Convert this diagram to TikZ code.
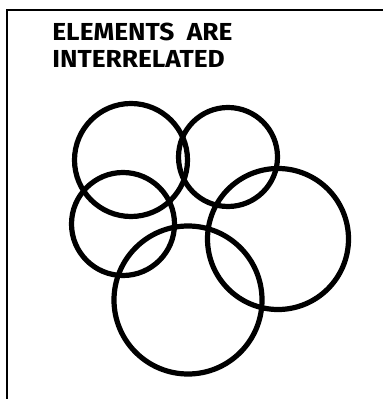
\documentclass[tikz,border=0pt]{standalone}
\usepackage{fontspec}
\newfontfamily\handfont[FakeStretch=1.07]{Fira Sans}
\usetikzlibrary{positioning}
\tikzset{
  frame/.style={line width=1.3pt,black},
  elem/.style={circle,draw=black,line width=2.6pt,inner sep=0pt,minimum size=#1},
  title/.style={anchor=base west,inner sep=0pt,font=\handfont\bfseries\fontsize{12.3}{13.5}\selectfont},
}
\begin{document}
\begin{tikzpicture}[x=0.5pt,y=-0.5pt]
  \useasboundingbox (0,0) rectangle (383,399);
  % open frame: left and top edges only
  \coordinate (fb) at (7,399);
  \coordinate (fc) at (7,10);
  \coordinate (fr) at (383,10);
  \draw[frame] (fb) -- (fc) -- (fr);
  \node[title] (head1) at (52,41) {ELEMENTS\ \ ARE};
  \node[title] (head2) at (52,68) {INTERRELATED};
  % five overlapping elements
  \node[elem=56.5pt] (e1) at (131,160) {};
  \node[elem=49.5pt] (e2) at (228,157) {};
  \node[elem=51.5pt] (e3) at (123,224) {};
  \node[elem=70.5pt] (e4) at (278,239) {};
  \node[elem=74pt]   (e5) at (188,300) {};
\end{tikzpicture}
\end{document}
